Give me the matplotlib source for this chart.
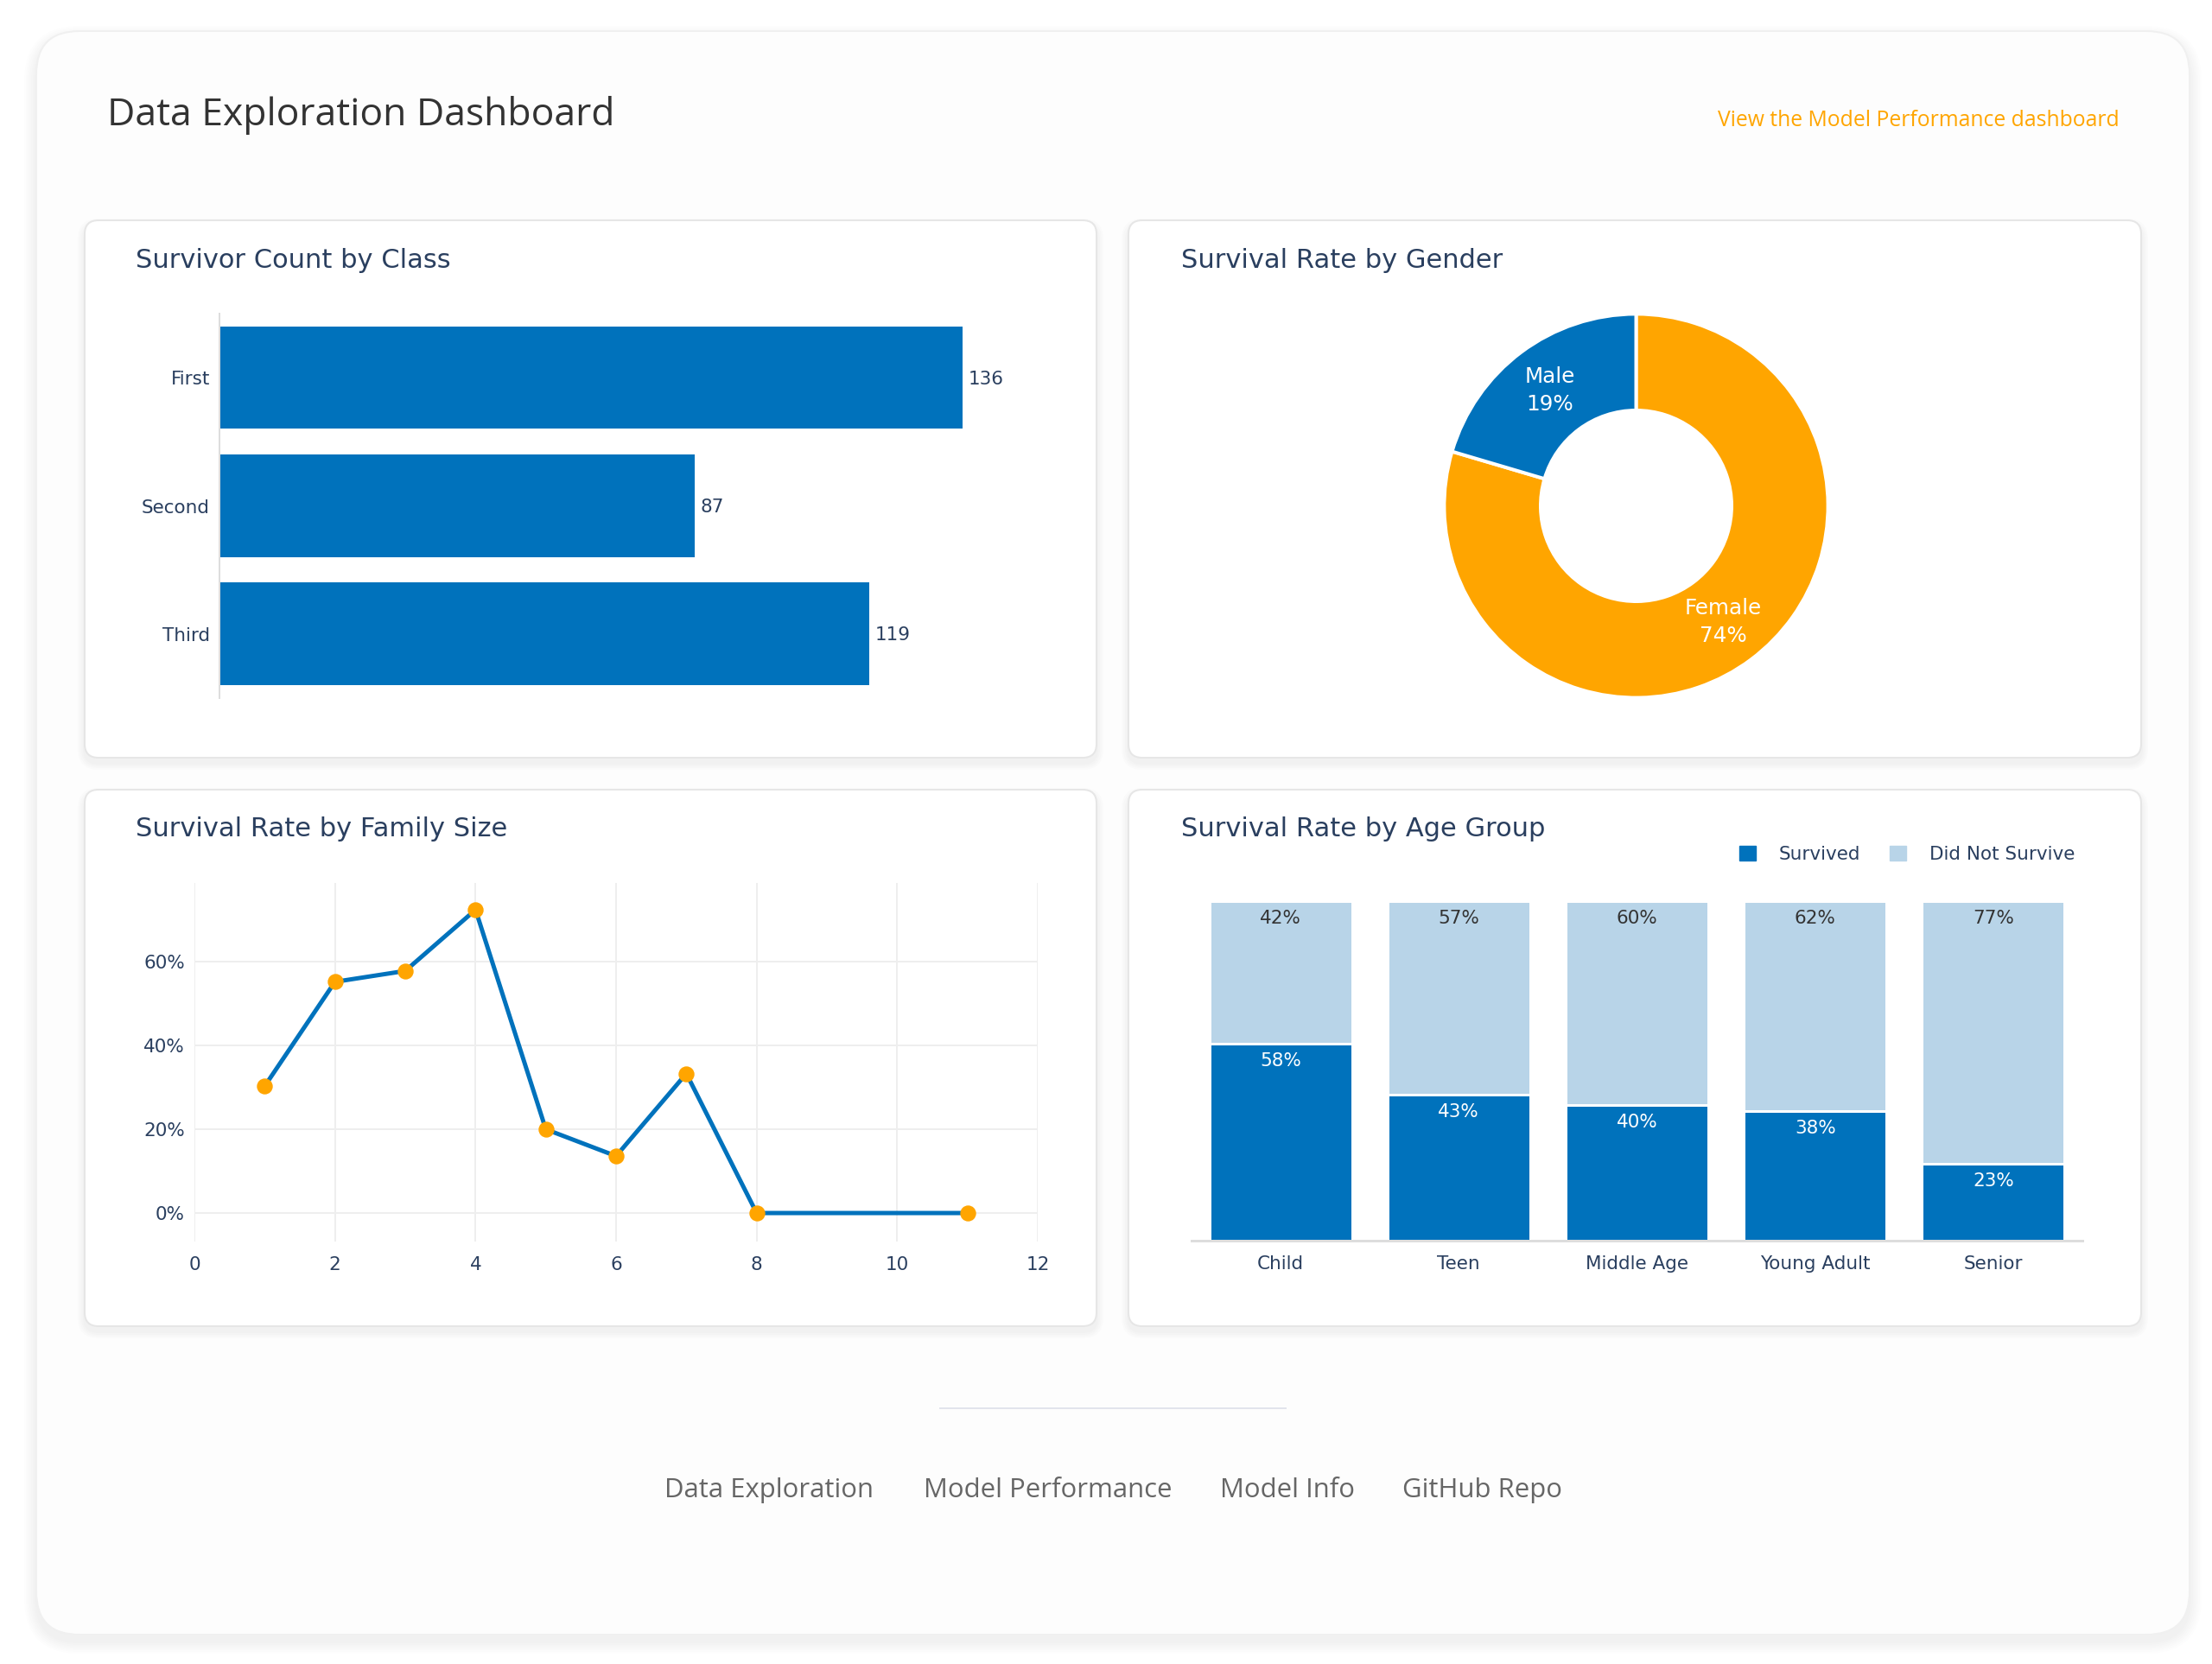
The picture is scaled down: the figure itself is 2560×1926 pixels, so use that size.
import matplotlib
matplotlib.use("Agg")
import matplotlib.pyplot as plt
from matplotlib.patches import FancyBboxPatch, Patch

# chart data
classes = ["First", "Second", "Third"]
class_counts = [136, 87, 119]

genders = ["Female", "Male"]
gender_rates = [74, 19]

family_sizes = [1, 2, 3, 4, 5, 6, 7, 8, 11]
family_rates = [30.3, 55.2, 57.8, 72.4, 20.0, 13.6, 33.3, 0.0, 0.0]
family_xticks = [0, 2, 4, 6, 8, 10, 12]
family_yticks = [0, 20, 40, 60]

age_groups = ["Child", "Teen", "Middle Age", "Young Adult", "Senior"]
age_survived = [58.1, 42.9, 39.9, 38.2, 22.6]
age_not_survived = [41.9, 57.1, 60.1, 61.8, 77.4]

nav_links = ["Data Exploration", "Model Performance", "Model Info", "GitHub Repo"]
nav_x = [769, 1069, 1412, 1623]

BLUE = "#0072BC"
ORANGE = "#FFA500"
LIGHT_BLUE = "#B8D4E8"
NAVY = "#2A3F5F"
GRID = "#EEEEEE"
W, H = 2560, 1926
PX = 72 / 100  # points per pixel at dpi 100

plt.rcParams["font.family"] = ["DejaVu Sans"]
fig = plt.figure(figsize=(W / 100, H / 100), dpi=100, facecolor="white")


def px_axes(left, top, right, bottom):
    return fig.add_axes([left / W, 1 - bottom / H, (right - left) / W, (bottom - top) / H])


def rounded(ax, x0, y0, x1, y1, r, **kw):
    ax.add_patch(FancyBboxPatch((x0 + r, y0 + r), x1 - x0 - 2 * r, y1 - y0 - 2 * r,
                                boxstyle=f"round,pad={r},rounding_size={r}", **kw))


def card(ax, x0, y0, x1, y1, r, fill, edge, spread, dy, alpha):
    # stacked translucent boxes stand in for the css box-shadow
    for s in range(spread, 0, -2):
        rounded(ax, x0 - s, y0 - s + dy, x1 + s, y1 + s + dy, r + s,
                facecolor="black", edgecolor="none", alpha=alpha)
    rounded(ax, x0, y0, x1, y1, r, facecolor=fill, edgecolor=edge, linewidth=2 * PX)


bg = fig.add_axes([0, 0, 1, 1])
bg.set_xlim(0, W)
bg.set_ylim(H, 0)
bg.axis("off")

card(bg, 42, 36, 2534, 1892, 50, "#FDFDFD", "#F0F0F0", 14, 8, 0.009)
for x0, x1 in [(98, 1269), (1306, 2478)]:
    for y0, y1 in [(255, 877), (914, 1535)]:
        card(bg, x0, y0, x1, y1, 16, "white", "#E6E6E6", 8, 6, 0.012)

bg.text(124, 133, "Data Exploration Dashboard", family="Open Sans", fontsize=32, color="#333333", va="center")
bg.text(2453, 140, "View the Model Performance dashboard", family="Open Sans", fontsize=17.85,
        color=ORANGE, ha="right", va="center")

for label, x, y in [("Survivor Count by Class", 157, 301), ("Survival Rate by Gender", 1367, 301),
                    ("Survival Rate by Family Size", 157, 960), ("Survival Rate by Age Group", 1367, 960)]:
    bg.text(x, y, label, fontsize=22, color=NAVY, va="center")

bg.plot([1088, 1488], [1630, 1630], color="#E2E4EC", linewidth=2 * PX)
for label, x in zip(nav_links, nav_x):
    bg.text(x, 1725, label, family="Open Sans", fontsize=22.4, color="#666666", va="center")

TICK_SIZE = 15.5

# survivor count by class
ax1 = px_axes(254, 363, 1200, 808)
ax1.barh(classes, class_counts, height=0.8, color=BLUE)
ax1.set_ylim(2.5, -0.5)
ax1.set_xlim(0, 946 / 6.32)
for i, v in enumerate(class_counts):
    ax1.annotate(str(v), (v, i), xytext=(7 * PX, -1.5 * PX), textcoords="offset points",
                 va="center", fontsize=TICK_SIZE, color=NAVY)
ax1.set_xticks([])
ax1.tick_params(axis="y", length=0, pad=11 * PX, labelsize=TICK_SIZE, labelcolor=NAVY)
for side in ["top", "right", "bottom"]:
    ax1.spines[side].set_visible(False)
ax1.spines["left"].set_color("#DDDDDD")
ax1.spines["left"].set_linewidth(2 * PX)
ax1.patch.set_alpha(0)

# survival rate by gender
ax2 = px_axes(1893.5 - 230, 585.5 - 230, 1893.5 + 230, 585.5 + 230)
ax2.pie(gender_rates, colors=[ORANGE, BLUE], startangle=90, counterclock=False, radius=1.005,
        wedgeprops={"width": 0.505, "edgecolor": "white", "linewidth": 4 * PX})
ax2.set_xlim(-230 / 221, 230 / 221)
ax2.set_ylim(-230 / 221, 230 / 221)
ax2.text(0.455, -0.61, f"{genders[0]}\n{gender_rates[0]}%", color="white", fontsize=17.7, ha="center", va="center",
         linespacing=1.42)
ax2.text(-0.45, 0.606, f"{genders[1]}\n{gender_rates[1]}%", color="white", fontsize=17.7, ha="center", va="center",
         linespacing=1.42)

# survival rate by family size
ax3 = px_axes(225, 1022, 1201, 1437)
ax3.plot(family_sizes, family_rates, color=BLUE, linewidth=5 * PX, marker="o", markersize=17 * PX,
         markerfacecolor=ORANGE, markeredgecolor=ORANGE, clip_on=False, zorder=3)
ax3.set_xlim(0, 12)
ax3.set_ylim(-6.8, 78.8)
ax3.set_xticks(family_xticks)
ax3.set_yticks(family_yticks)
ax3.set_yticklabels([f"{v}%" for v in family_yticks])
ax3.grid(color=GRID, linewidth=2 * PX)
ax3.set_axisbelow(True)
ax3.tick_params(length=0, labelsize=TICK_SIZE, labelcolor=NAVY)
ax3.tick_params(axis="x", pad=17 * PX)
ax3.tick_params(axis="y", pad=11 * PX)
for spine in ax3.spines.values():
    spine.set_visible(False)
ax3.patch.set_alpha(0)

# survival rate by age group
ax4 = px_axes(1379, 1043, 2410, 1436)
positions = list(range(len(age_groups)))
bars_a = ax4.bar(positions, age_survived, width=0.8, color=BLUE, edgecolor="white", linewidth=3 * PX, label="Survived")
bars_b = ax4.bar(positions, age_not_survived, width=0.8, bottom=age_survived, color=LIGHT_BLUE,
                 edgecolor="white", linewidth=3 * PX, label="Did Not Survive")
ax4.bar_label(bars_a, labels=[f"{v:.0f}%" for v in age_survived], label_type="edge", padding=-30 * PX,
              color="white", fontsize=TICK_SIZE)
ax4.bar_label(bars_b, labels=[f"{v:.0f}%" for v in age_not_survived], label_type="edge", padding=-30 * PX,
              color="#333333", fontsize=TICK_SIZE)
ax4.set_xlim(-0.5, 4.5)
ax4.set_ylim(0, 100)
ax4.set_yticks([])
ax4.set_xticks(positions)
ax4.set_xticklabels(age_groups)
ax4.tick_params(axis="x", length=0, pad=17 * PX, labelsize=TICK_SIZE, labelcolor=NAVY)
for side in ["top", "right", "left"]:
    ax4.spines[side].set_visible(False)
ax4.spines["bottom"].set_color("#DDDDDD")
ax4.spines["bottom"].set_linewidth(3 * PX)
ax4.patch.set_alpha(0)
ax4.legend(handles=[Patch(color=BLUE, label="Survived"), Patch(color=LIGHT_BLUE, label="Did Not Survive")],
           ncol=2, frameon=False, loc="center right", bbox_to_anchor=(2401 / W, 1 - 989 / H),
           bbox_transform=fig.transFigure, borderpad=0, borderaxespad=0, fontsize=TICK_SIZE,
           labelcolor=NAVY, handlelength=0.85, handleheight=0.85, handletextpad=1.25, columnspacing=1.6)

fig.savefig("out.png", dpi=100)
